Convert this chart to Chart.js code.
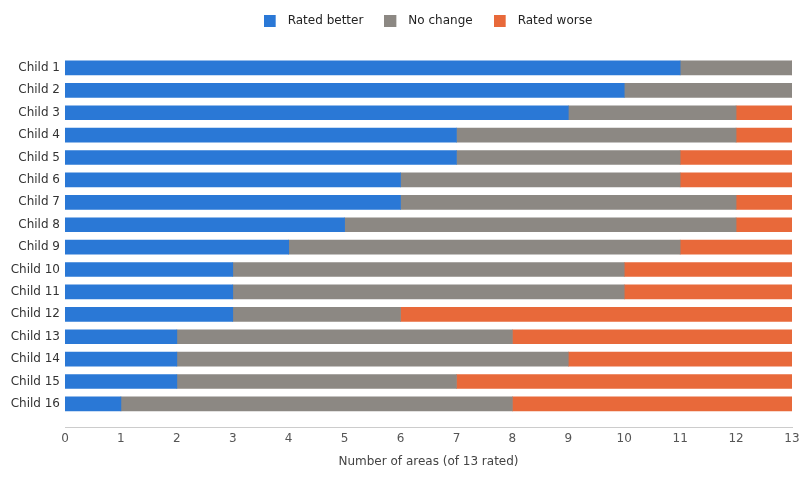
<!DOCTYPE html>
<html>
<head>
<meta charset="utf-8">
<script src="https://cdn.jsdelivr.net/npm/chart.js@4.4.1/dist/chart.umd.min.js"></script>
<style>
  html, body { margin: 0; padding: 0; background: #fff; }
  #wrap { width: 810px; height: 478px; }
</style>
</head>
<body>
<div id="wrap"><canvas id="chart" width="810" height="478"></canvas></div>
<script>
// Data
const children = ["Child 1", "Child 2", "Child 3", "Child 4", "Child 5", "Child 6", "Child 7", "Child 8",
                  "Child 9", "Child 10", "Child 11", "Child 12", "Child 13", "Child 14", "Child 15", "Child 16"];
const ratedBetter = [11, 10, 9, 7, 7, 6, 6, 5, 4, 3, 3, 3, 2, 2, 2, 1];
const noChange    = [2, 3, 3, 5, 4, 5, 6, 7, 7, 7, 7, 3, 6, 7, 5, 7];
const ratedWorse  = [0, 0, 1, 1, 2, 2, 1, 1, 2, 3, 3, 7, 5, 4, 6, 5];
const xTicks = [0, 1, 2, 3, 4, 5, 6, 7, 8, 9, 10, 11, 12, 13];

const colors = ["#2a78d6", "#8c8883", "#e8693a"];
const font = "'DejaVu Sans', sans-serif";

// bars sit on a numeric index axis so there can be a gap above the x axis line
function toPoints(values) {
    return values.map((v, i) => ({ x: v, y: i }));
}

// legend swatch: square on the left, blank space after it before the text
function makeSwatch(color) {
    const c = document.createElement("canvas");
    c.width = 18;
    c.height = 12;
    const g = c.getContext("2d");
    g.fillStyle = color;
    g.fillRect(0, 0, 12, 12);
    return c;
}

// center the legend over the plot area instead of the whole canvas
const legendOverPlot = {
    id: "legendOverPlot",
    afterLayout(chart) {
        const lg = chart.legend;
        lg.left = chart.chartArea.left - 0.5;
        lg.right = chart.chartArea.right - 0.5;
        lg.width = lg.right - lg.left;
    }
};

const ctx = document.getElementById("chart").getContext("2d");
new Chart(ctx, {
    type: "bar",
    data: {
        datasets: [
            { label: "Rated better", data: toPoints(ratedBetter), backgroundColor: colors[0] },
            { label: "No change", data: toPoints(noChange), backgroundColor: colors[1] },
            { label: "Rated worse", data: toPoints(ratedWorse), backgroundColor: colors[2] }
        ]
    },
    plugins: [legendOverPlot],
    options: {
        indexAxis: "y",
        responsive: false,
        animation: false,
        devicePixelRatio: 1,
        layout: { padding: { left: 0, right: 18, top: -6, bottom: 9 } },
        datasets: {
            bar: { barThickness: 14, borderWidth: 0 }
        },
        plugins: {
            legend: {
                position: "top",
                labels: {
                    font: { family: font, size: 12 },
                    color: "#222",
                    usePointStyle: true,
                    pointStyleWidth: 18,
                    boxHeight: 12,
                    padding: 21,
                    generateLabels: (chart) =>
                        Chart.defaults.plugins.legend.labels.generateLabels(chart)
                            .map((item, i) => Object.assign(item, { pointStyle: makeSwatch(colors[i]) }))
                }
            },
            tooltip: { enabled: false }
        },
        scales: {
            x: {
                stacked: true,
                min: 0,
                max: 13,
                afterBuildTicks: (scale) => { scale.ticks = xTicks.map(v => ({ value: v })); },
                grid: { display: false, drawTicks: false },
                border: { display: true, color: "#cccccc", width: 1 },
                ticks: { font: { family: font, size: 12 }, color: "#555", padding: 4 },
                title: {
                    display: true,
                    text: "Number of areas (of 13 rated)",
                    font: { family: font, size: 12 },
                    color: "#444",
                    padding: { top: 5, bottom: 0 }
                }
            },
            y: {
                type: "linear",
                stacked: true,
                reverse: true,
                offset: false,
                min: -1.38,
                max: 16.04,
                afterBuildTicks: (scale) => { scale.ticks = children.map((c, i) => ({ value: i })); },
                afterFit: (scale) => { scale.width = 65; },
                grid: { display: false, drawTicks: false },
                border: { display: false },
                ticks: {
                    font: { family: font, size: 12 },
                    color: "#333",
                    padding: 5,
                    callback: (value) => children[value] || ""
                }
            }
        }
    }
});
</script>
</body>
</html>
